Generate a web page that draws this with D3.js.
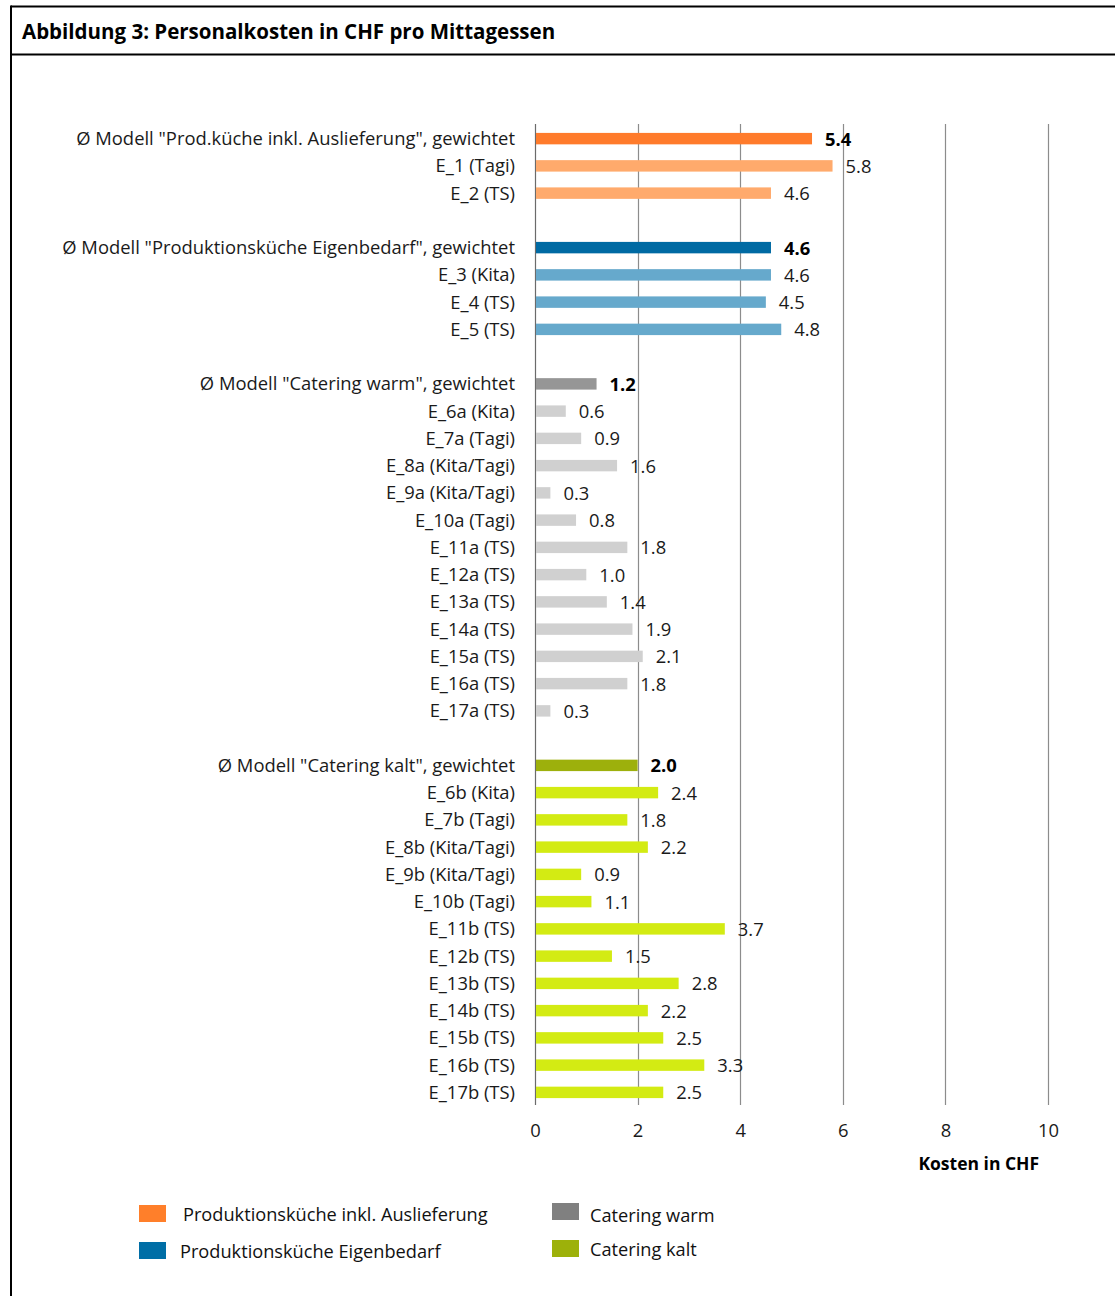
<!DOCTYPE html>
<html>
<head>
<meta charset="utf-8">
<script src="https://cdn.jsdelivr.net/npm/d3@7"></script>
<style>
  body { margin: 0; background: #fff; }
  text { font-family: "Open Sans", Lato, sans-serif; fill: #1a1a1a; }
</style>
</head>
<body>
<div id="chart"></div>
<script>
var svgWidth = 1115;
var svgHeight = 1296;

// rows in order; empty strings are the spacer rows between the groups
var categories = [
  'Ø Modell "Prod.küche inkl. Auslieferung", gewichtet', "E_1 (Tagi)", "E_2 (TS)", "",
  'Ø Modell "Produktionsküche Eigenbedarf", gewichtet', "E_3 (Kita)", "E_4 (TS)", "E_5 (TS)", "",
  'Ø Modell "Catering warm", gewichtet', "E_6a (Kita)", "E_7a (Tagi)", "E_8a (Kita/Tagi)", "E_9a (Kita/Tagi)",
  "E_10a (Tagi)", "E_11a (TS)", "E_12a (TS)", "E_13a (TS)", "E_14a (TS)", "E_15a (TS)", "E_16a (TS)", "E_17a (TS)", "",
  'Ø Modell "Catering kalt", gewichtet', "E_6b (Kita)", "E_7b (Tagi)", "E_8b (Kita/Tagi)", "E_9b (Kita/Tagi)",
  "E_10b (Tagi)", "E_11b (TS)", "E_12b (TS)", "E_13b (TS)", "E_14b (TS)", "E_15b (TS)", "E_16b (TS)", "E_17b (TS)"
];
var values = [
  5.4, 5.8, 4.6, null,
  4.6, 4.6, 4.5, 4.8, null,
  1.2, 0.6, 0.9, 1.6, 0.3, 0.8, 1.8, 1.0, 1.4, 1.9, 2.1, 1.8, 0.3, null,
  2.0, 2.4, 1.8, 2.2, 0.9, 1.1, 3.7, 1.5, 2.8, 2.2, 2.5, 3.3, 2.5
];
// group of each row: 0 = Prod.küche inkl. Auslieferung, 1 = Eigenbedarf, 2 = Catering warm, 3 = Catering kalt
var groups = [
  0, 0, 0, null,
  1, 1, 1, 1, null,
  2, 2, 2, 2, 2, 2, 2, 2, 2, 2, 2, 2, 2, null,
  3, 3, 3, 3, 3, 3, 3, 3, 3, 3, 3, 3, 3
];
var isAverage = categories.map(function(c) { return c.indexOf("Ø") === 0; });
var xTicks = [0, 2, 4, 6, 8, 10];
var legendLabels = ["Produktionsküche inkl. Auslieferung", "Produktionsküche  Eigenbedarf", "Catering warm", "Catering kalt"];

var avgColors = ["#ff7b2b", "#006aa3", "#969696", "#9db00c"];
var rowColors = ["#ffaa6c", "#66a9cc", "#d0d0d0", "#d3eb13"];
var legendColors = ["#ff7f2a", "#006ea6", "#808080", "#9db10a"];

var svg = d3.select("#chart")
  .append("svg")
  .attr("width", svgWidth)
  .attr("height", svgHeight);

// frame and title
svg.append("line").attr("x1", 11).attr("x2", svgWidth).attr("y1", 6.5).attr("y2", 6.5)
  .attr("stroke", "#000").attr("stroke-width", 2);
svg.append("line").attr("x1", 11).attr("x2", 11).attr("y1", 5.5).attr("y2", svgHeight)
  .attr("stroke", "#000").attr("stroke-width", 2);
svg.append("line").attr("x1", 11).attr("x2", svgWidth).attr("y1", 54.5).attr("y2", 54.5)
  .attr("stroke", "#000").attr("stroke-width", 2);
svg.append("text")
  .attr("x", 22).attr("y", 39)
  .style("font-size", "20.5px").style("font-weight", "bold").style("fill", "#000")
  .text("Abbildung 3: Personalkosten in CHF pro Mittagessen");

var margin = { top: 125, left: 535 };
var width = 513;
var height = 981;

var chartGroup = svg.append("g")
  .attr("transform", `translate(${margin.left}, ${margin.top})`);

var xScale = d3.scaleLinear().domain([0, 10]).range([0, width]);
var yScale = d3.scaleBand()
  .domain(d3.range(categories.length))
  .range([0, height])
  .paddingInner(0.58)
  .paddingOuter(0.29);

// gridlines
chartGroup.selectAll(".grid")
  .data(xTicks)
  .enter()
  .append("line")
  .attr("x1", d => Math.round(xScale(d)) + 0.5)
  .attr("x2", d => Math.round(xScale(d)) + 0.5)
  .attr("y1", -1)
  .attr("y2", height - 1)
  .attr("stroke", d => d === 0 ? "#6b6b6b" : "#8c8c8c")
  .attr("stroke-width", 1.2);

// x axis tick labels
var xAxis = d3.axisBottom(xScale).tickValues(xTicks).tickSize(0).tickPadding(18);
var xAxisG = chartGroup.append("g")
  .attr("transform", `translate(0, ${height})`)
  .call(xAxis);
xAxisG.select(".domain").remove();
xAxisG.selectAll("text")
  .style("font-size", "18.4px")
  .style("font-family", "'Open Sans', sans-serif")
  .attr("fill", "#1a1a1a");

chartGroup.append("text")
  .attr("x", xScale(8.65))
  .attr("y", height + 64)
  .attr("text-anchor", "middle")
  .style("font-size", "17.5px")
  .style("font-weight", "bold")
  .style("fill", "#000")
  .text("Kosten in CHF");

var rows = d3.range(categories.length).filter(i => values[i] !== null);

// category labels
chartGroup.selectAll(".cat")
  .data(rows)
  .enter()
  .append("text")
  .attr("x", -20)
  .attr("y", i => yScale(i) + yScale.bandwidth() / 2)
  .attr("dy", "0.35em")
  .attr("text-anchor", "end")
  .style("font-size", "18.4px")
  .text(i => categories[i]);

// bars
chartGroup.selectAll(".bar")
  .data(rows)
  .enter()
  .append("rect")
  .attr("x", xScale(0) + 1)
  .attr("y", i => yScale(i))
  .attr("width", i => xScale(values[i]) - 1)
  .attr("height", yScale.bandwidth())
  .attr("fill", i => isAverage[i] ? avgColors[groups[i]] : rowColors[groups[i]]);

// value labels
chartGroup.selectAll(".val")
  .data(rows)
  .enter()
  .append("text")
  .attr("x", i => xScale(values[i]) + 13)
  .attr("y", i => yScale(i) + yScale.bandwidth() / 2)
  .attr("dy", "0.38em")
  .style("font-size", "18.4px")
  .style("font-weight", i => isAverage[i] ? "bold" : "normal")
  .style("fill", i => isAverage[i] ? "#000" : "#1a1a1a")
  .text(i => d3.format(".1f")(values[i]));

// legend
var legendPos = [[139, 1205], [139, 1242], [552, 1203], [552, 1240]];
var legend = svg.selectAll(".legend")
  .data(legendLabels)
  .enter()
  .append("g")
  .attr("transform", (d, i) => `translate(${legendPos[i][0]}, ${legendPos[i][1]})`);
legend.append("rect")
  .attr("width", 27)
  .attr("height", 17)
  .attr("fill", (d, i) => legendColors[i]);
legend.append("text")
  .attr("x", (d, i) => i === 1 ? 41 : (i === 0 ? 44 : 38))
  .attr("y", (d, i) => i === 2 ? 12 : 9)
  .attr("dy", "0.38em")
  .style("font-size", "18.2px")
  .style("fill", "#111")
  .text(d => d);
</script>
</body>
</html>
